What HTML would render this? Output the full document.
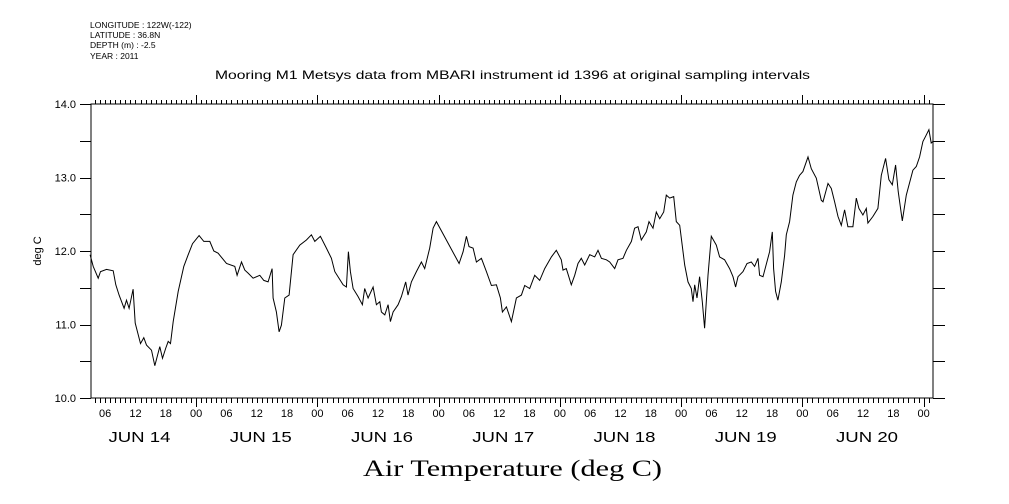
<!DOCTYPE html>
<html><head><meta charset="utf-8"><style>
html,body{margin:0;padding:0;background:#fff;}
svg{display:block;font-family:"Liberation Sans",sans-serif;}
</style></head><body>
<svg id="chart" width="1009" height="504" viewBox="0 0 1009 504">
<g font-size="8.5" fill="#000">
<text x="90" y="28">LONGITUDE : 122W(-122)</text>
<text x="90" y="38">LATITUDE : 36.8N</text>
<text x="90" y="48">DEPTH (m) : -2.5</text>
<text x="90" y="59">YEAR : 2011</text>
</g>
<text x="215" y="79" textLength="595" lengthAdjust="spacingAndGlyphs" font-size="12">Mooring M1 Metsys data from MBARI instrument id 1396 at original sampling intervals</text>
<text x="0" y="0" transform="translate(41,251) rotate(-90)" text-anchor="middle" font-size="11">deg C</text>
<text x="363" y="476" textLength="299" lengthAdjust="spacingAndGlyphs" font-family="'Liberation Serif',serif" font-size="23">Air Temperature (deg C)</text>
<rect x="91" y="104" width="842" height="294" fill="none" stroke="#000" stroke-width="1"/>
<g id="axes"></g>
<g id="series"></g>
</svg>
<script>
const hours=[3.03,3.63,4.62,5.08,6.27,7.59,8.11,8.77,9.76,10.22,10.75,11.54,11.94,12.99,13.65,14.18,15.17,15.83,16.82,17.35,18.01,18.47,18.93,19.46,20.45,21.57,22.43,23.28,24.60,25.52,26.71,27.50,28.36,30.01,31.66,32.12,32.98,33.64,34.30,35.29,36.61,37.40,38.25,39.05,39.24,39.90,40.43,40.89,41.55,42.41,43.20,44.52,45.84,46.83,47.49,48.61,49.80,50.79,51.45,53.09,53.75,54.15,54.55,55.07,56.06,56.92,57.38,58.04,59.03,59.69,60.35,
60.68,61.34,62.00,62.46,62.99,63.98,64.64,65.49,65.95,66.61,67.60,68.59,69.25,70.24,70.90,71.56,76.05,76.84,77.50,78.02,78.82,79.48,80.46,81.45,82.44,83.43,84.22,84.62,85.41,86.40,87.39,88.38,89.04,90.03,91.02,92.01,93.00,94.32,95.30,96.29,96.62,97.28,98.27,98.93,99.59,100.25,100.91,101.90,102.89,103.55,104.21,105.20,105.86,106.85,107.51,108.50,109.16,110.15,110.80,111.46,112.12,113.11,113.64,114.43,115.09,115.75,116.54,117.07,117.73,
118.52,119.05,119.71,120.70,121.36,122.02,122.35,122.68,123.14,123.66,124.19,124.65,125.31,125.97,126.96,127.62,128.61,129.60,130.26,130.79,131.25,132.24,133.03,133.89,134.55,135.21,135.54,136.20,137.51,138.04,138.31,138.70,139.16,139.82,140.48,140.81,141.47,142.13,142.79,143.45,144.11,145.10,145.76,146.75,147.74,148.07,149.06,149.72,150.38,151.04,151.70,152.36,153.01,154.00,154.66,155.19,155.98,156.64,156.97,157.96,158.95,159.61,160.47,161.13,161.79,162.45,162.97,163.77,164.56,165.88,166.54,167.19,167.85,168.38,169.04,169.50,169.83];
const temps=[11.95,11.79,11.63,11.72,11.75,11.73,11.54,11.40,11.22,11.33,11.22,11.48,11.02,10.74,10.82,10.72,10.65,10.44,10.70,10.54,10.68,10.77,10.74,11.04,11.45,11.79,11.95,12.10,12.21,12.13,12.13,12.00,11.97,11.83,11.79,11.67,11.85,11.74,11.70,11.63,11.67,11.60,11.58,11.76,11.36,11.17,10.90,10.99,11.36,11.40,11.95,12.08,12.15,12.22,12.13,12.20,12.04,11.90,11.72,11.54,11.51,11.99,11.72,11.49,11.38,11.27,11.49,11.36,11.51,11.27,11.31,
11.17,11.13,11.27,11.04,11.17,11.27,11.38,11.58,11.40,11.58,11.72,11.85,11.76,12.04,12.31,12.40,11.83,11.99,12.20,12.06,12.04,11.85,11.90,11.72,11.53,11.54,11.36,11.17,11.24,11.04,11.36,11.40,11.53,11.49,11.67,11.60,11.76,11.92,12.01,11.88,11.74,11.76,11.54,11.67,11.83,11.90,11.81,11.95,11.92,12.01,11.90,11.88,11.85,11.76,11.88,11.90,12.01,12.13,12.31,12.33,12.15,12.26,12.40,12.31,12.53,12.44,12.53,12.76,12.72,
12.74,12.40,12.35,11.81,11.58,11.49,11.31,11.54,11.36,11.65,11.31,10.95,11.67,12.20,12.08,11.92,11.88,11.76,11.65,11.51,11.65,11.72,11.83,11.85,11.79,11.90,11.67,11.65,11.99,12.26,11.76,11.45,11.33,11.58,11.94,12.22,12.40,12.76,12.94,13.03,13.08,13.28,13.12,12.99,12.69,12.67,12.92,12.85,12.67,12.47,12.35,12.56,12.33,12.33,12.72,12.58,12.49,12.58,12.38,12.47,12.58,13.03,13.26,12.97,12.90,13.17,12.81,12.41,12.76,13.10,13.15,13.28,13.49,13.56,13.65,13.47,13.49];
const yTickLabels=["10.0","11.0","12.0","13.0","14.0"];
const hourLabels=["06","12","18","00"];
const dayLabels=["JUN 14","JUN 15","JUN 16","JUN 17","JUN 18","JUN 19","JUN 20"];

const X0=91,X1=933,Y0=398,Y1=104,H0=3.2,H1=169.85,T0=10,T1=14;
const sx=h=>X0+(h-H0)/(H1-H0)*(X1-X0);
const sy=t=>Y0-(t-T0)/(T1-T0)*(Y0-Y1);
const NS="http://www.w3.org/2000/svg";
const axes=document.getElementById('axes'),series=document.getElementById('series');
function mk(tag,attrs,parent){const e=document.createElementNS(NS,tag);for(const k in attrs)e.setAttribute(k,attrs[k]);parent.appendChild(e);return e;}
let tp="";
for(let h=Math.ceil(H0);h<=H1;h++){
  const x=Math.round(sx(h))+0.5, major=(h%24===0);
  tp+=`M${x} ${Y0}V${Y0+(major?9:5)}M${x} ${Y1}V${Y1-(major?9:4)}`;
}
for(let t=T0;t<=T1+0.001;t+=0.5){
  const y=Math.round(sy(t))+0.5;
  tp+=`M${X0} ${y}H${X0-11}M${X1} ${y}H${X1+12}`;
}
const ticks=mk('path',{d:tp,stroke:'#000','stroke-width':1,fill:'none'},axes);


yTickLabels.forEach((lab,i)=>{
  const t=mk('text',{x:76,y:sy(T0+i)+4,'text-anchor':'end','font-size':11},axes);
  t.textContent=lab;
  
  
});
for(let h=6;h<=H1;h+=6){
  const t=mk('text',{x:sx(h),y:417,'text-anchor':'middle','font-size':11},axes);
  t.textContent=hourLabels[(h/6-1)%4];
  
  
}
dayLabels.forEach((lab,i)=>{
  const t=mk('text',{x:sx(12+24*i)-27,y:442,textLength:62,lengthAdjust:'spacingAndGlyphs','font-size':15},axes);
  t.textContent=lab;
  
  
});
const d=hours.map((h,i)=>(i?'L':'M')+sx(h).toFixed(1)+' '+sy(temps[i]).toFixed(1)).join('');
const line=mk('path',{d:d,stroke:'#000','stroke-width':1,fill:'none'},series);


</script>
</body></html>
